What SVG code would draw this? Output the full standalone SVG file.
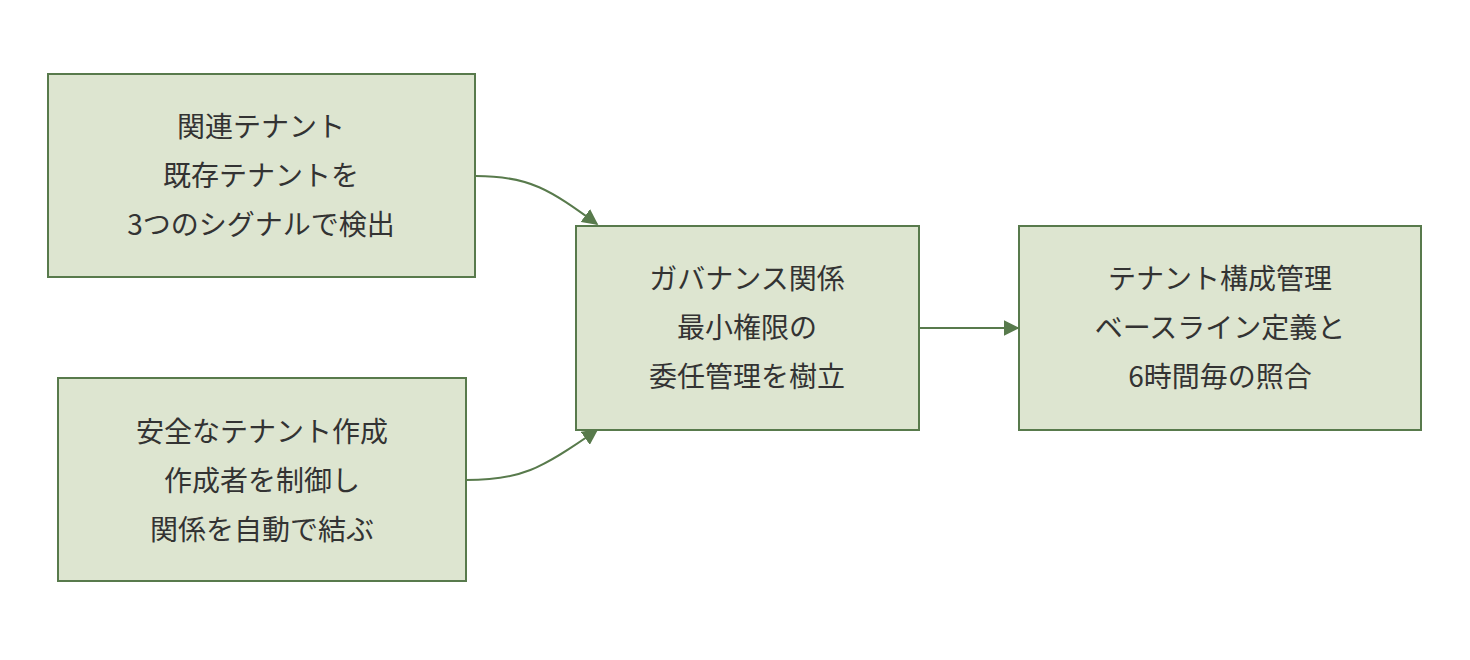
<svg xmlns="http://www.w3.org/2000/svg" width="1470" height="660" viewBox="0 0 1470 660">
<style>
.n{fill:#dde5d0;stroke:#587a4c;stroke-width:2}
.t{font-family:"Noto Sans CJK JP",sans-serif;font-size:28px;fill:#333;text-anchor:middle}
.c{fill:none;stroke:#587a4c;stroke-width:2}
</style>
<defs><marker id="a" viewBox="0 0 10 10" refX="9" refY="5" markerWidth="8" markerHeight="8" orient="auto"><path d="M0,0L10,5L0,10z" fill="#587a4c"/></marker></defs>
<rect width="1470" height="660" fill="#fff"/>
<g id="connectors">
<path class="c" d="M476,176C530,176 550,190 597,224" marker-end="url(#a)"/>
<path class="c" d="M466,480C520,480 540,470 597,430" marker-end="url(#a)"/>
<path class="c" d="M919,328H1018" marker-end="url(#a)"/>
</g>
<g id="n1"><rect class="n" x="48" y="74" width="427" height="203"/>
<text class="t" x="261" y="137">関連テナント</text><text class="t" x="261" y="186">既存テナントを</text><text class="t" x="261" y="235">3つのシグナルで検出</text></g>
<g id="n2"><rect class="n" x="58" y="378" width="408" height="203"/>
<text class="t" x="262" y="442">安全なテナント作成</text><text class="t" x="262" y="491">作成者を制御し</text><text class="t" x="262" y="540">関係を自動で結ぶ</text></g>
<g id="n3"><rect class="n" x="576" y="226" width="343" height="204"/>
<text class="t" x="747" y="289">ガバナンス関係</text><text class="t" x="747" y="338">最小権限の</text><text class="t" x="747" y="387">委任管理を樹立</text></g>
<g id="n4"><rect class="n" x="1019" y="226" width="402" height="204"/>
<text class="t" x="1220" y="289">テナント構成管理</text><text class="t" x="1220" y="338">ベースライン定義と</text><text class="t" x="1220" y="387">6時間毎の照合</text></g>
</svg>
